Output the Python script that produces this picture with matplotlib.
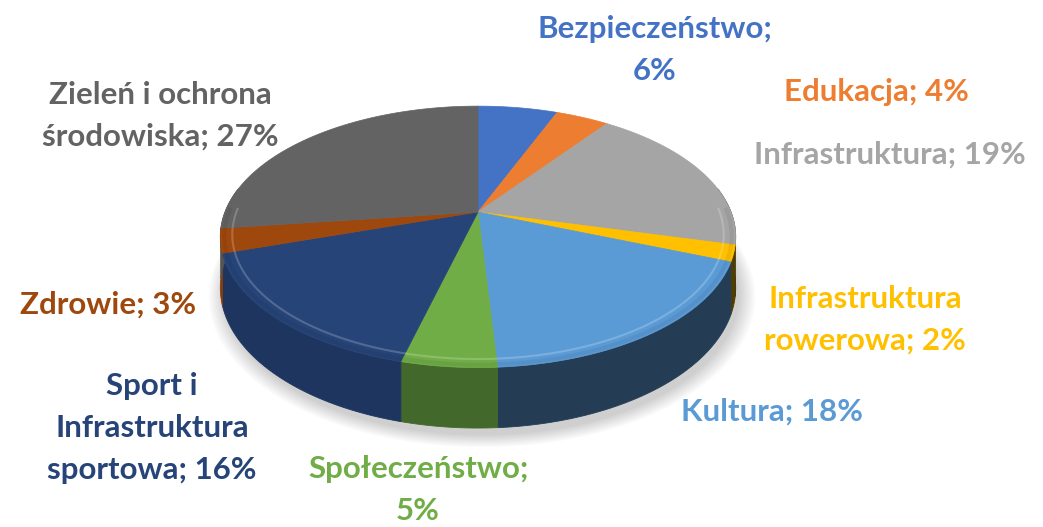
import numpy as np
import matplotlib.pyplot as plt
from matplotlib.patches import Polygon
from matplotlib.colors import to_rgb

categories = ["Bezpieczeństwo", "Edukacja", "Infrastruktura", "Infrastruktura\nrowerowa",
              "Kultura", "Społeczeństwo", "Sport i\nInfrastruktura\nsportowa", "Zdrowie",
              "Zieleń i ochrona\nśrodowiska"]
shares = [6, 4, 19, 2, 18, 5, 16, 3, 27]
colors = ["#4472C4", "#ED7D31", "#A5A5A5", "#FFC000", "#5B9BD5",
          "#70AD47", "#264478", "#9E480E", "#636363"]

# label layout (pixel centres) and whether the "; x%" goes on a new line
label_pos = [(655, 50), (876, 92), (890, 155), (865, 320), (772, 412),
             (418, 490), (152, 428), (108, 305), (160, 116)]
pct_newline = [True, False, False, False, False, True, False, False, False]

# perspective pie geometry, in pixels
cx, cy = 478, 212
rx, ry = 253, 126
persp = 0.19
depth = 49


def proj(theta, r=1.0, drop=0.0):
    u = r * np.cos(theta)
    v = r * np.sin(theta)
    k = 1.0 / (1.0 + persp * np.sin(theta) * r)
    return cx + rx * u * k, cy - ry * v * k + drop * k


def shade(c, f):
    return tuple(np.clip(np.array(to_rgb(c)) * f, 0, 1))


fig = plt.figure(figsize=(10.43, 5.27), dpi=100)
ax = fig.add_axes([0, 0, 1, 1])
ax.set_xlim(0, 1043)
ax.set_ylim(527, 0)
ax.axis("off")

edges = 90 - 3.6 * np.concatenate([[0], np.cumsum(shares)])
starts = np.radians(edges[:-1])
ends = np.radians(edges[1:])

# soft shadow under the disc
t = np.linspace(0, 2 * np.pi, 200)
for grow in np.linspace(1.06, 1.0, 8):
    sx, sy = proj(t, r=1.0, drop=depth + 6)
    sx = cx + (sx - cx) * grow + 4
    sy = (cy + depth * 0.6) + (sy - cy - depth * 0.6) * grow
    ax.add_patch(Polygon(np.column_stack([sx, sy]), closed=True,
                         facecolor="#000000", alpha=0.025, edgecolor="none", zorder=1))

# side walls (front half only)
vis_lo, vis_hi = np.radians(-191), np.radians(11)
for a0, a1, c in zip(starts, ends, colors):
    lo, hi = max(a1, vis_lo), min(a0, vis_hi)
    if hi <= lo:
        continue
    mid = np.degrees((lo + hi) / 2)
    f = np.clip(0.6 + (-95 - mid) * 0.005, 0.32, 0.85)
    th = np.linspace(hi, lo, max(int(np.degrees(hi - lo)), 2) + 1)
    xt, yt = proj(th)
    xb, yb = proj(th, drop=depth)
    ax.add_patch(Polygon(np.column_stack([np.r_[xt, xb[::-1]], np.r_[yt, yb[::-1]]]),
                         closed=True, facecolor=shade(c, f), edgecolor=shade(c, f),
                         linewidth=0.6, zorder=2))

# top face
for a0, a1, c in zip(starts, ends, colors):
    th = np.linspace(a0, a1, max(int(abs(np.degrees(a1 - a0))) * 2, 4))
    xs, ys = proj(th)
    px, py = proj(np.array([0.0]), r=0.0)
    ax.add_patch(Polygon(np.column_stack([np.r_[px, xs], np.r_[py, ys]]), closed=True,
                         facecolor=c, edgecolor=c, linewidth=0.5, zorder=3))
    # bevel highlight near the front rim
    lo, hi = max(a1, np.radians(-182)), min(a0, np.radians(2))
    if hi > lo:
        th = np.linspace(hi, lo, 40)
        hx, hy = proj(th, r=0.955)
        light = tuple(np.array(to_rgb(c)) * 0.6 + 0.4)
        ax.plot(hx, hy, color=light, lw=1.5, alpha=0.5, zorder=4,
                solid_capstyle="butt")
        dx, dy = proj(th, r=0.985)
        ax.plot(dx, dy, color=shade(c, 0.85), lw=3, alpha=0.4, zorder=4,
                solid_capstyle="butt")

# data labels
for name, s, c, (lx, ly), nl in zip(categories, shares, colors, label_pos, pct_newline):
    txt = f"{name};\n{s}%" if nl else f"{name}; {s}%"
    ax.text(lx, ly, txt, color=c, fontsize=22.5, fontweight="bold", family="Lato",
            ha="center", va="center", linespacing=1.6, zorder=5)

plt.savefig("out.png", dpi=100)
